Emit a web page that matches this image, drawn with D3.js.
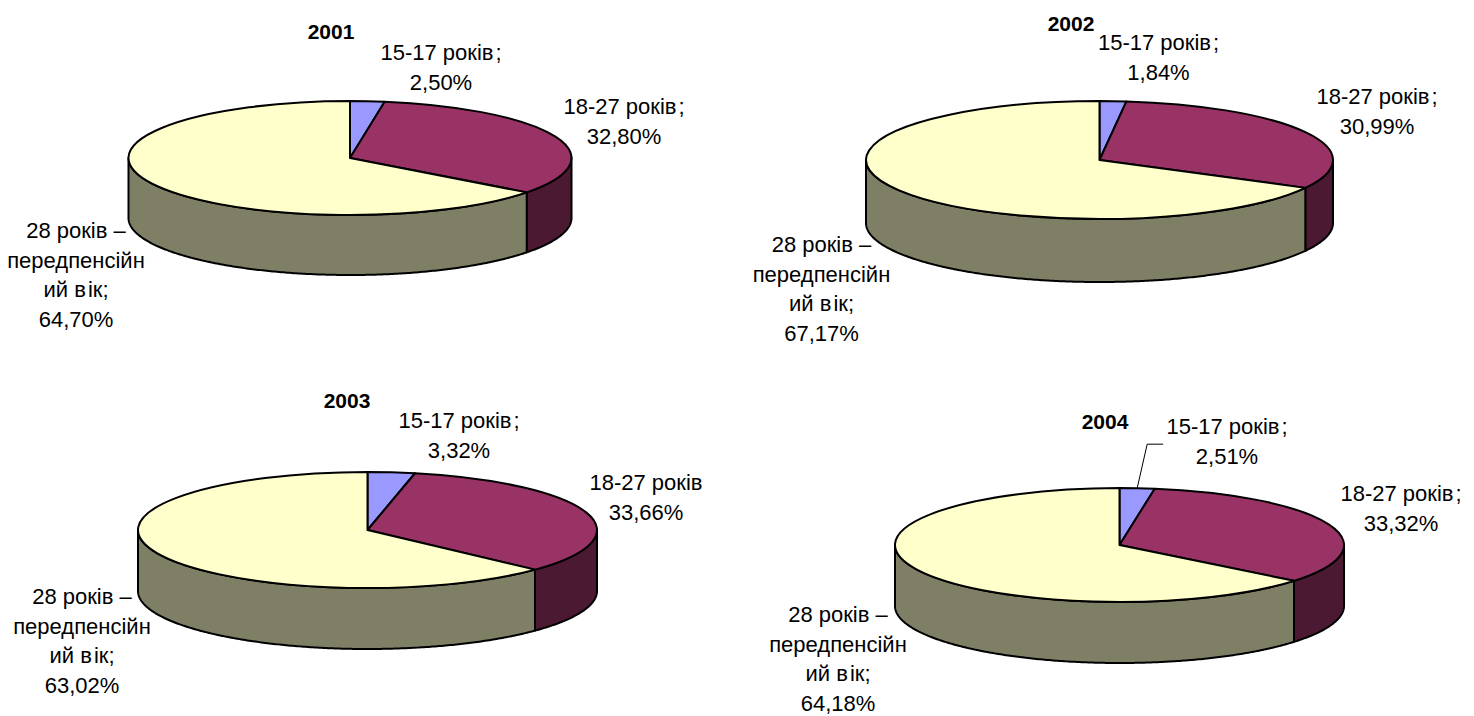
<!DOCTYPE html>
<html>
<head>
<meta charset="utf-8">
<script src="https://cdn.jsdelivr.net/npm/d3@7"></script>
<style>
  html, body { margin: 0; background: #fff; }
  svg { display: block; }
  text { font-family: "Liberation Sans", Arial, sans-serif; fill: #000; text-anchor: middle; }
  .label { font-size: 22px; }
  .title { font-size: 21px; font-weight: bold; }
  .slice, .wall { stroke: #000; stroke-width: 2; stroke-linejoin: round; }
  .slice { vector-effect: non-scaling-stroke; }
</style>
</head>
<body>
<svg id="chart" width="1474" height="716"></svg>
<script>
const years = ["2001", "2002", "2003", "2004"];
const categories = ["15-17 років", "18-27 років", "28 років – передпенсійний вік"];

const values2001 = [2.5, 32.8, 64.7];
const values2002 = [1.84, 30.99, 67.17];
const values2003 = [3.32, 33.66, 63.02];
const values2004 = [2.51, 33.32, 64.18];
const seriesValues = [values2001, values2002, values2003, values2004];

const valueLabels2001 = ["2,50%", "32,80%", "64,70%"];
const valueLabels2002 = ["1,84%", "30,99%", "67,17%"];
const valueLabels2003 = ["3,32%", "33,66%", "63,02%"];
const valueLabels2004 = ["2,51%", "33,32%", "64,18%"];
const valueLabels = [valueLabels2001, valueLabels2002, valueLabels2003, valueLabels2004];

const topColors = ["#9999ff", "#993366", "#ffffcc"];
const wallColors = ["#4c4c7f", "#4c1933", "#7f7f66"];

// pie placement for each year: centre, radii, thickness
const pieLayouts = [
  { cx: 350, cy: 158, rx: 221.5, ry: 57, depth: 60, title: [331, 38.5] },
  { cx: 1099.5, cy: 160, rx: 233.5, ry: 59, depth: 63, title: [1071, 31] },
  { cx: 367.5, cy: 530, rx: 229.5, ry: 58, depth: 61, title: [347, 408] },
  { cx: 1119.5, cy: 545, rx: 224.5, ry: 57, depth: 61, title: [1105, 429] },
];

// label anchors: [centre x, first baseline] per category
const labelLayouts = [
  [[441, 60], [624, 114], [76, 238]],
  [[1158.5, 50], [1377, 104], [821.5, 252]],
  [[459, 428], [646, 490], [82, 604]],
  [[1227, 434], [1401, 501], [838, 622]],
];

const LINE_HEIGHT = 29.6;
const GLYPH_GAP = 2;

function labelLines(yearIndex, catIndex) {
  const value = valueLabels[yearIndex][catIndex];
  if (catIndex === 2) return ["28 років –", "передпенсійн", "ий вік;", value];
  // the 2003 middle label has no semicolon in the source
  if (yearIndex === 2 && catIndex === 1) return [categories[1], value];
  return [categories[catIndex] + ";", value];
}

const svg = d3.select("#chart");
const pie = d3.pie().sort(null).value((d) => d);

function drawPie(yearIndex) {
  const layout = pieLayouts[yearIndex];
  const group = svg.append("g").attr("class", "pie-" + years[yearIndex]);
  const arcs = pie(seriesValues[yearIndex]);

  const x = (a) => layout.cx + layout.rx * Math.sin(a);
  const y = (a) => layout.cy - layout.ry * Math.cos(a);

  const wall = d3.area()
    .x(x)
    .y0(y)
    .y1((a) => y(a) + layout.depth);

  // only the front half of the rim is visible
  arcs.forEach((d, i) => {
    const from = Math.max(d.startAngle, Math.PI / 2);
    const to = Math.min(d.endAngle, (3 * Math.PI) / 2);
    if (to <= from) return;
    const angles = d3.range(from, to, 0.01).concat([to]);
    group.append("path")
      .attr("class", "wall")
      .attr("fill", wallColors[i])
      .attr("d", wall(angles));
  });

  const arc = d3.arc().innerRadius(0).outerRadius(layout.rx);
  group.append("g")
    .attr("transform", `translate(${layout.cx},${layout.cy}) scale(1,${layout.ry / layout.rx})`)
    .selectAll("path")
    .data(arcs)
    .join("path")
    .attr("class", "slice")
    .attr("fill", (d, i) => topColors[i])
    .attr("d", arc);

  group.append("text")
    .attr("class", "title")
    .attr("x", layout.title[0])
    .attr("y", layout.title[1])
    .text(years[yearIndex]);

  labelLayouts[yearIndex].forEach((pos, catIndex) => {
    const text = group.append("text").attr("class", "label");
    labelLines(yearIndex, catIndex).forEach((line, n) => {
      const row = text.append("tspan")
        .attr("x", pos[0])
        .attr("y", pos[1] + n * LINE_HEIGHT);
      // the source has small gaps around the latin-looking i and the semicolon
      line.replace(/в;$/, "в|;").replace("вік", "в|ік").split("|").forEach((piece, k) => {
        row.append("tspan")
          .attr("dx", k ? GLYPH_GAP : 0)
          .text(piece);
      });
    });
  });

  return arcs;
}

years.forEach((year, i) => {
  const arcs = drawPie(i);
  // 2004 is the only chart with a leader line
  if (year === "2004") {
    const layout = pieLayouts[i];
    const mid = (arcs[0].startAngle + arcs[0].endAngle) / 2;
    const startX = layout.cx + layout.rx * Math.sin(mid);
    const startY = layout.cy - layout.ry * Math.cos(mid);
    svg.append("path")
      .attr("fill", "none")
      .attr("stroke", "#000")
      .attr("stroke-width", 1)
      .attr("d", d3.line()([[startX, startY], [startX + 10, startY - 44], [startX + 26, startY - 44]]));
  }
});
</script>
</body>
</html>
